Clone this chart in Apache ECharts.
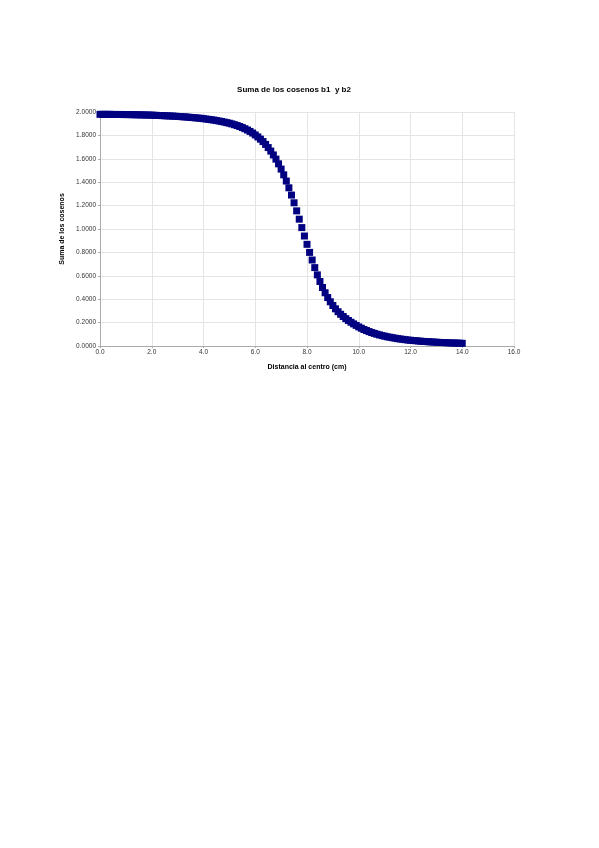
<!DOCTYPE html>
<html>
<head>
<meta charset="utf-8">
<script src="https://cdn.jsdelivr.net/npm/echarts@6/dist/echarts.min.js"></script>
<style>
html,body{margin:0;padding:0;background:#fff;}
#c{width:599px;height:848px;}
</style>
</head>
<body>
<div id="c"></div>
<script>
// Distance to centre (cm), step 0.1 from 0 to 14
const distances = [
0.0,0.1,0.2,0.3,0.4,0.5,0.6,0.7,0.8,0.9,
1.0,1.1,1.2,1.3,1.4,1.5,1.6,1.7,1.8,1.9,
2.0,2.1,2.2,2.3,2.4,2.5,2.6,2.7,2.8,2.9,
3.0,3.1,3.2,3.3,3.4,3.5,3.6,3.7,3.8,3.9,
4.0,4.1,4.2,4.3,4.4,4.5,4.6,4.7,4.8,4.9,
5.0,5.1,5.2,5.3,5.4,5.5,5.6,5.7,5.8,5.9,
6.0,6.1,6.2,6.3,6.4,6.5,6.6,6.7,6.8,6.9,
7.0,7.1,7.2,7.3,7.4,7.5,7.6,7.7,7.8,7.9,
8.0,8.1,8.2,8.3,8.4,8.5,8.6,8.7,8.8,8.9,
9.0,9.1,9.2,9.3,9.4,9.5,9.6,9.7,9.8,9.9,
10.0,10.1,10.2,10.3,10.4,10.5,10.6,10.7,10.8,10.9,
11.0,11.1,11.2,11.3,11.4,11.5,11.6,11.7,11.8,11.9,
12.0,12.1,12.2,12.3,12.4,12.5,12.6,12.7,12.8,12.9,
13.0,13.1,13.2,13.3,13.4,13.5,13.6,13.7,13.8,13.9,
14.0
];
// Sum of cosines b1 and b2
const sumCosines = [
1.980,1.980,1.980,1.980,1.980,1.979,1.979,1.979,1.979,1.978,
1.978,1.978,1.977,1.977,1.976,1.976,1.975,1.975,1.974,1.974,
1.973,1.972,1.971,1.970,1.969,1.968,1.967,1.966,1.965,1.964,
1.962,1.961,1.959,1.958,1.956,1.954,1.952,1.950,1.948,1.946,
1.943,1.940,1.937,1.934,1.931,1.927,1.923,1.919,1.914,1.909,
1.904,1.898,1.891,1.884,1.876,1.867,1.857,1.846,1.834,1.820,
1.804,1.787,1.768,1.747,1.723,1.696,1.666,1.633,1.597,1.557,
1.512,1.463,1.410,1.352,1.290,1.224,1.155,1.084,1.012,0.940,
0.869,0.800,0.735,0.670,0.608,0.551,0.500,0.455,0.414,0.378,
0.346,0.318,0.293,0.271,0.252,0.234,0.218,0.203,0.189,0.176,
0.163,0.152,0.141,0.132,0.123,0.115,0.108,0.101,0.095,0.089,
0.084,0.079,0.075,0.071,0.067,0.063,0.060,0.057,0.054,0.051,
0.049,0.047,0.045,0.043,0.041,0.039,0.038,0.036,0.035,0.034,
0.032,0.031,0.030,0.029,0.028,0.027,0.026,0.025,0.025,0.024,
0.023
];
const titleText = 'Suma de los cosenos b1  y b2';
const xAxisName = 'Distancia al centro (cm)';
const yAxisName = 'Suma de los cosenos';

const font = 'Liberation Sans, Arial, sans-serif';
const chart = echarts.init(document.getElementById('c'), null, {renderer: 'canvas'});
chart.setOption({
  backgroundColor: '#ffffff',
  animation: false,
  title: {
    text: titleText,
    left: 289, top: 81, textAlign: 'center',
    textStyle: {fontFamily: font, fontSize: 8, fontWeight: 'bold', color: '#000'}
  },
  grid: {left: 100, right: 85, top: 112, bottom: 502, containLabel: false},
  xAxis: {
    type: 'value', min: 0, max: 16, interval: 2,
    name: xAxisName, nameLocation: 'middle', nameGap: 18,
    nameTextStyle: {fontFamily: font, fontSize: 7, fontWeight: 'bold', color: '#000'},
    axisLine: {lineStyle: {color: '#aaaaaa', width: 1}},
    axisTick: {show: true, length: 2, lineStyle: {color: '#aaaaaa'}},
    axisLabel: {fontFamily: font, fontSize: 6.5, color: '#333', margin: 3,
      formatter: v => v.toFixed(1)},
    splitLine: {show: true, lineStyle: {color: '#e4e4e4', width: 1}}
  },
  yAxis: {
    type: 'value', min: 0, max: 2, interval: 0.2,
    name: yAxisName, nameLocation: 'middle', nameGap: 34, nameRotate: 90,
    nameTextStyle: {fontFamily: font, fontSize: 7, fontWeight: 'bold', color: '#000'},
    axisLine: {show: true, lineStyle: {color: '#aaaaaa', width: 1}},
    axisTick: {show: true, length: 2, lineStyle: {color: '#aaaaaa'}},
    axisLabel: {fontFamily: font, fontSize: 6.5, color: '#333', margin: 4,
      formatter: v => v.toFixed(4)},
    splitLine: {show: true, lineStyle: {color: '#e4e4e4', width: 1}}
  },
  series: [{
    type: 'scatter',
    symbol: 'rect',
    symbolSize: 7,
    itemStyle: {color: '#000080', opacity: 1},
    data: distances.map((d, i) => [d, sumCosines[i]])
  }]
});
</script>
</body>
</html>
